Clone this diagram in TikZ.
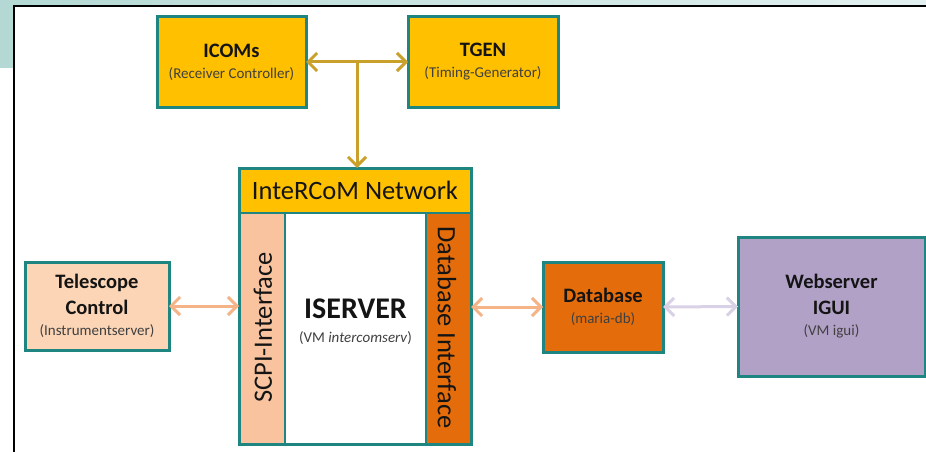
\documentclass[tikz,border=0pt]{standalone}
\usepackage{fontspec}
\setmainfont{Carlito}
\usetikzlibrary{arrows.meta,calc}
\definecolor{bordc}{RGB}{31,133,128}
\definecolor{goldfill}{RGB}{255,192,0}
\definecolor{goldarrow}{RGB}{201,160,42}
\definecolor{peachlight}{RGB}{251,213,182}
\definecolor{peachband}{RGB}{248,195,158}
\definecolor{orangefill}{RGB}{228,108,10}
\definecolor{lavfill}{RGB}{178,161,199}
\definecolor{peacharrow}{RGB}{244,180,136}
\definecolor{lavarrow}{RGB}{217,209,230}
\definecolor{txtc}{RGB}{20,20,20}
\definecolor{subc}{RGB}{64,64,64}
\newcommand\tbold{\fontsize{20.5}{20}\selectfont\bfseries}
\newcommand\tsubt{\fontsize{15}{21}\selectfont\color{subc}}
\newcommand\tband{\fontsize{26.5}{30}\selectfont}
\begin{document}
\begin{tikzpicture}[x=1pt,y=-1pt,
  box/.style={draw=bordc, line width=3pt, inner sep=0pt, outer sep=0pt, align=center, text=txtc, font=\fontsize{15}{21}\selectfont},
  band/.style={draw=bordc, line width=2pt, inner sep=0pt, outer sep=0pt, text=txtc, font=\tband},
  bandtext/.style={inner sep=0pt, text=txtc, font=\tband},
  arr/.style={line width=3pt, {Straight Barb[length=9pt,width=18pt]}-{Straight Barb[length=9pt,width=18pt]}},
]
\useasboundingbox (0,0) rectangle (926,452);
\shade[left color={rgb,255:red,180;green,217;blue,212}, right color={rgb,255:red,226;green,241;blue,239}] (0,0) rectangle (926,68);
\draw[fill=white, line width=2.5pt] (14,6) rectangle (945,470);

% top boxes
\node[box, fill=goldfill, minimum width=149pt, minimum height=90pt] (icoms) at (231.5,62)
  {\tbold ICOMs\\\tsubt (Receiver Controller)};
\node[box, fill=goldfill, minimum width=150pt, minimum height=90pt] (tgen) at (483,62)
  {\tbold TGEN\\\tsubt (Timing-Generator)};

% iserver block
\node[box, fill=white, minimum width=232pt, minimum height=276pt] (iserver) at (355,306) {};
\node[band, fill=goldfill, minimum width=232pt, minimum height=45pt, anchor=north] (net) at (iserver.north) {InteRCoM Network};
\node[band, fill=peachband, minimum width=46pt, minimum height=231pt] (scpi) at (262,328.5) {};
\node[band, fill=orangefill, minimum width=45pt, minimum height=231pt] (dbif) at (448.5,328.5) {};
\node[bandtext, rotate=90] (scpitext) at (263,327.5) {SCPI-Interface};
\node[bandtext, rotate=-90] (dbiftext) at (447,327.5) {Database Interface};
\node[align=center, text=txtc, inner sep=0pt, font=\fontsize{15}{24}\selectfont] (core) at (355.5,322)
  {\fontsize{30}{24}\selectfont\bfseries ISERVER\\\tsubt (VM \textit{intercomserv})};
\draw[bordc, line width=3pt] (iserver.north west) rectangle (iserver.south east);

% side boxes
\node[box, fill=peachlight, minimum width=144pt, minimum height=88pt] (tele) at (97,306)
  {\tbold Telescope\\[5pt]\tbold Control\\\tsubt (Instrumentserver)};
\node[box, fill=orangefill, minimum width=120pt, minimum height=90pt] (db) at (603,307)
  {\tbold Database\\\tsubt (maria-db)};
\node[box, fill=lavfill, minimum width=187pt, minimum height=139pt] (web) at (831.5,306.5)
  {\tbold Webserver\\[5pt]\tbold IGUI\\\tsubt (VM igui)};

% connectors
\draw[arr, goldarrow] (icoms.east) -- (tgen.west);
\coordinate (tj) at ($(icoms.east)!0.5!(tgen.west)$);
\draw[goldarrow, line width=3pt, -{Straight Barb[length=9pt,width=18pt]}] (tj) -- (tj |- net.north);
\draw[arr, peacharrow] (tele.east) -- (tele.east -| iserver.west);
\draw[arr, peacharrow] (iserver.east |- db.west) -- (db.west);
\draw[arr, lavarrow] (db.east) -- (web.west);
\end{tikzpicture}
\end{document}
